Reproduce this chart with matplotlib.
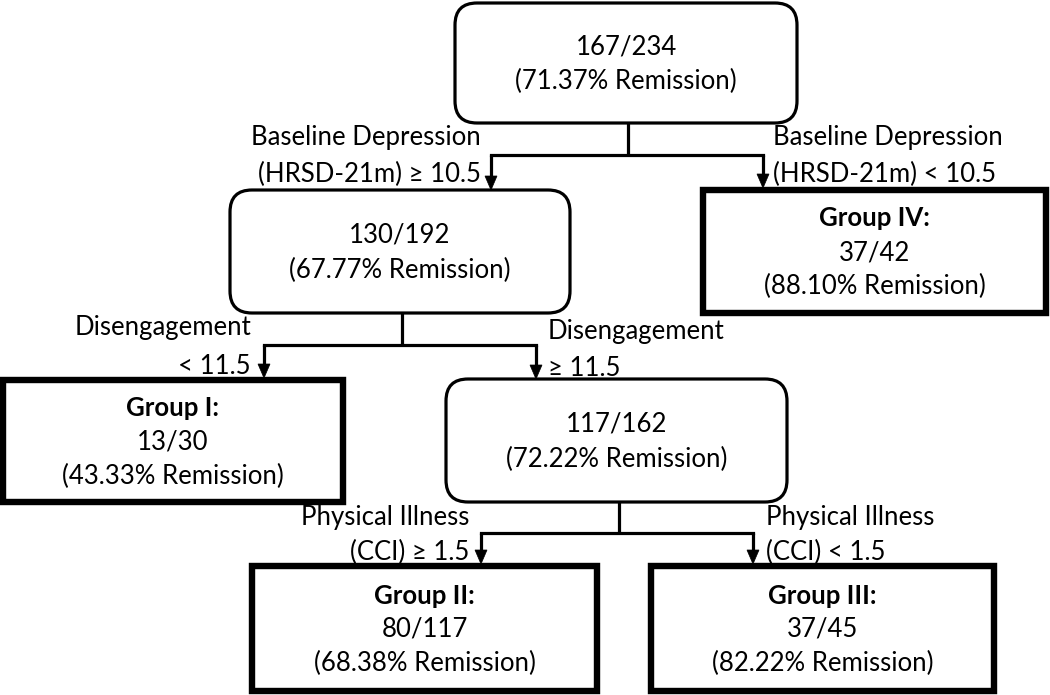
import matplotlib
matplotlib.use("Agg")
import matplotlib.pyplot as plt
from matplotlib.patches import FancyBboxPatch, Rectangle, Polygon

# ---- data ----
node_names = ["root", "n2", "n3", "g1", "g2", "g3", "g4"]
remitted = [167, 130, 117, 13, 80, 37, 37]
totals = [234, 192, 162, 30, 117, 45, 42]
percents = ["71.37", "67.77", "72.22", "43.33", "68.38", "82.22", "88.10"]
group_labels = [None, None, None, "Group I:", "Group II:", "Group III:", "Group IV:"]
split_labels_left = [["Baseline Depression", "(HRSD-21m) \u2265 10.5"],
                     ["Disengagement", "< 11.5"],
                     ["Physical Illness", "(CCI) \u2265 1.5"]]
split_labels_right = [["Baseline Depression", "(HRSD-21m) < 10.5"],
                      ["Disengagement", "\u2265 11.5"],
                      ["Physical Illness", "(CCI) < 1.5"]]

FONT = "Lato"
FS = 18.5

fig = plt.figure(figsize=(10.5, 6.95), dpi=100)
ax = fig.add_axes([0, 0, 1, 1])
ax.set_xlim(0, 1050)
ax.set_ylim(695, 0)
ax.axis("off")

# box geometry: (x0, y0, x1, y1, rounded)
boxes = {
    "root": (455, 3, 797, 123, True),
    "n2": (230, 190, 570, 313, True),
    "n3": (446, 379, 787, 502, True),
    "g1": (3, 380, 343, 502, False),
    "g2": (252, 566, 597, 691, False),
    "g3": (651, 566, 994, 691, False),
    "g4": (703, 190, 1046, 313, False),
}

for i, name in enumerate(node_names):
    x0, y0, x1, y1, rounded = boxes[name]
    if rounded:
        p = FancyBboxPatch((x0, y0), x1 - x0, y1 - y0,
                           boxstyle="round,pad=0,rounding_size=22",
                           fc="white", ec="black", lw=2.3, zorder=2)
    else:
        p = Rectangle((x0, y0), x1 - x0, y1 - y0, fc="white", ec="black",
                      lw=4.6, joinstyle="miter", zorder=2)
    ax.add_patch(p)
    cx = (x0 + x1) / 2
    lines = []
    if group_labels[i]:
        lines.append((group_labels[i], "bold"))
    lines.append((f"{remitted[i]}/{totals[i]}", "normal"))
    lines.append((f"({percents[i]}% Remission)", "normal"))
    cy = (y0 + y1) / 2 + 1
    n = len(lines)
    step = 34 if n == 3 else 35
    for k, (t, w) in enumerate(lines):
        y = cy + (k - (n - 1) / 2) * step
        ax.text(cx, y, t, ha="center", va="center", fontsize=FS,
                fontweight=w, family=FONT, zorder=3)


def connector(px, py0, py1, xl, xr, ytop_l, ytop_r):
    lw = 2.3
    ax.plot([px, px], [py0, py1], color="black", lw=lw, solid_capstyle="butt", zorder=1)
    ax.plot([xl, xr], [py1, py1], color="black", lw=lw, solid_capstyle="projecting", zorder=1)
    for x, yt in ((xl, ytop_l), (xr, ytop_r)):
        ax.plot([x, x], [py1, yt - 10], color="black", lw=lw, solid_capstyle="butt", zorder=1)
        ax.add_patch(Polygon([(x - 6, yt - 14), (x + 6, yt - 14), (x, yt)],
                             closed=True, fc="black", ec="black", lw=0.5, zorder=4))


connector(628, 123, 155, 491, 763, 190, 188)
connector(402, 313, 345, 264, 536, 378, 379)
connector(619, 502, 533, 481, 753, 564, 564)

# split labels
left_pos = [(481, 137, 174), (251, 327, 366), (469, 517, 552)]
right_pos = [(773, 137, 174), (548, 332, 369), (766, 517, 552)]
for (x, y1, y2), lab in zip(left_pos, split_labels_left):
    ax.text(x, y1, lab[0], ha="right", va="center", fontsize=FS, family=FONT)
    ax.text(x, y2, lab[1], ha="right", va="center", fontsize=FS, family=FONT)
for (x, y1, y2), lab in zip(right_pos, split_labels_right):
    ax.text(x, y1, lab[0], ha="left", va="center", fontsize=FS, family=FONT)
    ax.text(x, y2, lab[1], ha="left", va="center", fontsize=FS, family=FONT)

fig.savefig("out.png", dpi=100, facecolor="white")
